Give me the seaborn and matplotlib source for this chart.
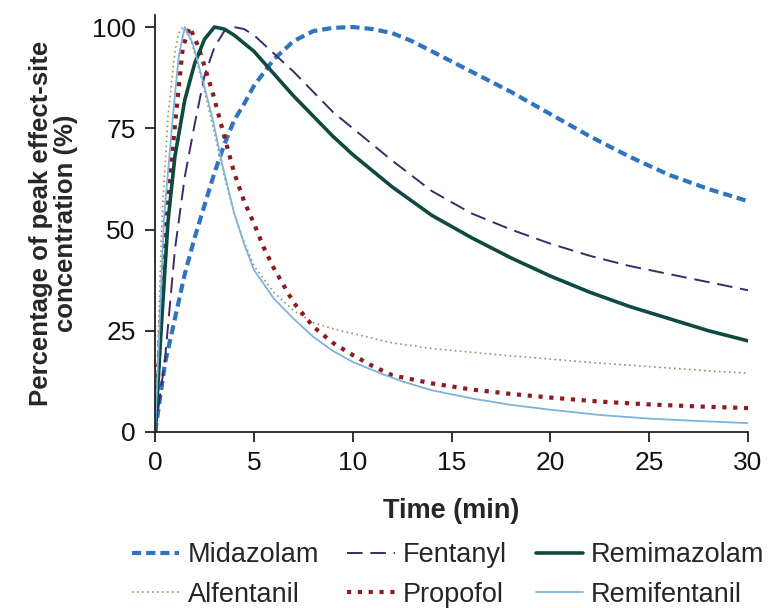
import numpy as np
import pandas as pd
import seaborn as sns
import matplotlib.pyplot as plt

# Effect-site concentration (% of peak)
midazolam_t = [0, 0.5, 1, 1.5, 2, 2.5, 3, 3.5, 4, 4.5, 5, 6, 7, 8, 9, 10, 11, 12, 13, 14, 16, 18, 20, 22, 24, 26, 28, 30]
midazolam_y = [0, 17, 28, 39, 48, 56, 64, 71, 77, 81, 85.5, 92, 96.5, 99, 99.8, 100, 99.5, 98.5, 96.5, 94, 89, 84, 78.5, 73, 68, 63.5, 60, 57]

fentanyl_t = [0, 0.5, 1, 1.5, 2, 2.5, 3, 3.5, 4, 4.5, 5, 6, 7, 8, 9, 10, 12, 14, 16, 18, 20, 22, 24, 26, 28, 30]
fentanyl_y = [0, 18, 45, 63, 76, 88, 95, 99, 100, 99.5, 98, 93.5, 89, 84, 79, 75, 67, 59.5, 54, 50, 46.5, 43.5, 41, 39, 37, 35]

remimazolam_t = [0, 0.3, 0.65, 1, 1.5, 2, 2.5, 3, 3.5, 4, 5, 6, 7, 8, 9, 10, 12, 14, 16, 18, 20, 22, 24, 26, 28, 30]
remimazolam_y = [0, 25, 52, 68, 82, 91, 97, 100, 99.5, 98, 94, 88.5, 83, 78, 73, 68.5, 60.5, 53.5, 48, 43, 38.5, 34.5, 31, 28, 25, 22.5]

alfentanil_t = [0, 0.35, 0.65, 1, 1.2, 1.4, 1.8, 2.3, 2.9, 3.5, 4, 4.5, 5, 6, 7, 8, 9, 10, 12, 14, 16, 18, 20, 22, 24, 26, 28, 30]
alfentanil_y = [0, 53, 78, 94, 98.5, 100, 97, 88, 76, 63, 54, 47, 41, 34.5, 30, 27, 25.5, 24.3, 22, 20.6, 19.7, 18.8, 18, 17.2, 16.5, 15.8, 15.1, 14.5]

propofol_t = [0, 0.55, 1.05, 1.4, 1.75, 2.2, 2.9, 3.5, 4, 4.5, 5, 5.5, 6, 7, 8, 9, 10, 11, 12, 14, 16, 18, 20, 22.5, 25, 27.5, 30]
propofol_y = [0, 53, 78, 95, 100, 95, 84, 73, 64, 57, 51.5, 45.5, 40.5, 32, 26, 22, 19, 16.3, 14, 12, 10.5, 9.4, 8.5, 7.5, 6.8, 6.3, 5.9]

remifentanil_t = [0, 0.45, 0.9, 1.2, 1.5, 1.9, 2.4, 2.9, 3.4, 4, 4.5, 5, 6, 7, 8, 9, 10, 11.5, 12.5, 14, 16, 18, 20, 22.5, 25, 27.5, 30]
remifentanil_y = [0, 53, 78, 93, 100, 96, 87, 77.5, 66, 54, 46.5, 40, 33, 28, 23.5, 20, 17.3, 14.3, 12.5, 10.3, 8.3, 6.7, 5.5, 4.2, 3.3, 2.7, 2.2]

# legend fills column-wise with ncol=3, so order is row1/row2 per column
series = [
    ("Midazolam", midazolam_t, midazolam_y, "#2f74bf", (0, (2.2, 1.2)), 3.0),
    ("Alfentanil", alfentanil_t, alfentanil_y, "#a08f62", (0, (1, 2)), 1.2),
    ("Fentanyl", fentanyl_t, fentanyl_y, "#3d2a6b", (0, (8, 4)), 1.4),
    ("Propofol", propofol_t, propofol_y, "#8c1c1f", (0, (1, 1.6)), 3.0),
    ("Remimazolam", remimazolam_t, remimazolam_y, "#0d4a42", "solid", 2.6),
    ("Remifentanil", remifentanil_t, remifentanil_y, "#7db3de", "solid", 1.3),
]

sns.set_style("ticks")
plt.rcParams['font.family'] = ['Liberation Sans', 'DejaVu Sans']

fig = plt.figure(figsize=(7.68, 6.08), dpi=100)
ax = fig.add_axes([0.202, 0.2895, 0.772, 0.686])

for name, t, y, color, ls, lw in series:
    df = pd.DataFrame({"Time": t, "Value": y})
    sns.lineplot(data=df, x="Time", y="Value", ax=ax, color=color,
                 linestyle=ls, linewidth=lw, label=name)

ax.set_xlim(0, 30)
ax.set_ylim(0, 103)
ax.set_xticks([0, 5, 10, 15, 20, 25, 30])
ax.set_yticks([0, 25, 50, 75, 100])
ax.tick_params(axis='both', labelsize=19, length=7, width=1.3, pad=7,
               colors='#222222', labelcolor='#111111')
for s in ["left", "bottom"]:
    ax.spines[s].set_linewidth(1.3)
    ax.spines[s].set_color('#222222')
sns.despine(ax=ax, top=True, right=True)

ax.set_xlabel("Time (min)", fontsize=19.5, fontweight='bold', labelpad=16)
ax.set_ylabel("Percentage of peak effect-site\nconcentration (%)", fontsize=18.5,
              fontweight='bold', labelpad=10, linespacing=1.05)

ax.legend(loc='upper left', bbox_to_anchor=(0.172, 0.108), bbox_transform=fig.transFigure,
          ncol=3, frameon=False, fontsize=19.5, handlelength=1.75, columnspacing=1.05,
          handletextpad=0.3, labelspacing=0.5, borderaxespad=0, borderpad=0)

fig.savefig("out.png", dpi=100)
